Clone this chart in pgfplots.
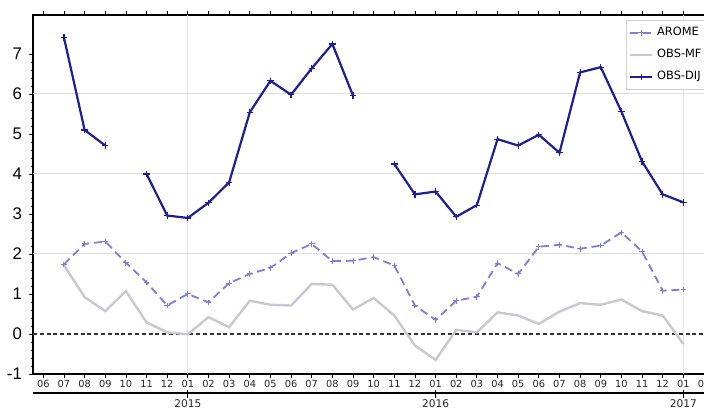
\documentclass[border=0pt]{standalone}
\usepackage{pgfplots}
\pgfplotsset{compat=1.18}
\usepackage{fontspec}
\setmainfont{DejaVu Sans}
\newfontfamily\libsans{Liberation Sans}
\definecolor{dij}{RGB}{30,30,150}
\definecolor{arome}{RGB}{125,125,225}
\definecolor{obsmf}{RGB}{200,200,212}
\begin{document}
\begin{tikzpicture}
\begin{axis}[
  x=10.325pt, y=20pt,
  scale only axis,
  xmin=-0.5, xmax=32.5, ymin=-1, ymax=7.975,
  clip=false,
  axis line style={black, line width=0.6pt},
  xtick={0,...,32},
  xticklabels={06,07,08,09,10,11,12,\raisebox{-0.7pt}{01},02,03,04,05,06,07,08,09,10,11,12,\raisebox{-0.7pt}{01},02,03,04,05,06,07,08,09,10,11,12,\raisebox{-0.7pt}{01},02},
  ytick={-1,0,...,7},
  minor y tick num=4,
  tick align=outside,
  major tick length=2pt, minor tick length=1.2pt,
  xtick style={black, line width=0.4pt},
  ytick style={black, line width=0.4pt},
  x tick label style={font=\fontsize{4.9}{5}\selectfont, text=black!85, yshift=2.3pt},
  y tick label style={font=\libsans\fontsize{8.4}{9}\selectfont},
  /pgf/number format/assume math mode=true,
  extra y ticks={2,4,6},
  extra y tick labels={},
  extra y tick style={grid=major, major grid style={black!13, line width=0.5pt}, major tick length=0pt},
  extra x ticks={7,31},
  extra x tick labels={},
  extra x tick style={grid=major, major grid style={black!10, line width=0.5pt}, major tick length=0pt},
  unbounded coords=jump,
  legend style={at={(axis cs:28.23,7.85)}, anchor=north west, draw=black!18, fill=white,
    font=\fontsize{5.7}{6.5}\selectfont, row sep=1.3pt, inner sep=1.3pt},
  legend cell align=left,
  legend image code/.code={\draw[mark repeat=2,mark phase=2,#1] plot coordinates {(0cm,0cm) (0.19cm,0cm) (0.38cm,0cm)};},
]
\draw[black!80, line width=0.6pt, dash pattern=on 2pt off 1.4pt] (axis cs:-0.5,0) -- (axis cs:32.5,0);

\addplot[arome, line width=0.9pt, dash pattern=on 4pt off 2.4pt, mark=+, mark size=1.4pt, mark options={solid, line width=0.5pt}] coordinates {
(1,1.74) (2,2.25) (3,2.31) (4,1.78) (5,1.29) (6,0.71) (7,1.00) (8,0.79) (9,1.27) (10,1.50)
(11,1.65) (12,2.02) (13,2.25) (14,1.82) (15,1.83) (16,1.92) (17,1.71) (18,0.71) (19,0.35)
(20,0.83) (21,0.93) (22,1.77) (23,1.50) (24,2.18) (25,2.23) (26,2.13) (27,2.21) (28,2.54)
(29,2.06) (30,1.08) (31,1.11)};
\addlegendentry{AROME}

\addplot[obsmf, line width=1.2pt] coordinates {
(1,1.72) (2,0.92) (3,0.57) (4,1.07) (5,0.29) (6,0.04) (7,-0.01) (8,0.42) (9,0.17) (10,0.83)
(11,0.73) (12,0.71) (13,1.25) (14,1.23) (15,0.61) (16,0.90) (17,0.46) (18,-0.29) (19,-0.65)
(20,0.10) (21,0.04) (22,0.54) (23,0.46) (24,0.25) (25,0.56) (26,0.77) (27,0.73) (28,0.86)
(29,0.57) (30,0.46) (31,-0.25)};
\addlegendentry{OBS-MF}

\addplot[dij, line width=1.1pt, mark=+, mark size=1.6pt, mark options={line width=0.6pt}] coordinates {
(1,7.41) (2,5.10) (3,4.71) (4,nan) (5,4.00) (6,2.96) (7,2.90) (8,3.28) (9,3.79) (10,5.54)
(11,6.33) (12,5.98) (13,6.64) (14,7.25) (15,5.96) (16,nan) (17,4.25) (18,3.49) (19,3.56)
(20,2.93) (21,3.22) (22,4.87) (23,4.71) (24,4.98) (25,4.53) (26,6.54) (27,6.67) (28,5.56)
(29,4.31) (30,3.49) (31,3.29)};
\addlegendentry{OBS-DIJ}

\draw[black, line width=0.6pt] ([yshift=-9.5pt]axis cs:-0.5,-1) -- ([yshift=-9.5pt]axis cs:32.5,-1);
\draw[black, line width=0.5pt] ([yshift=-7.8pt]axis cs:7,-1) -- ([yshift=-12pt]axis cs:7,-1);
\draw[black, line width=0.5pt] ([yshift=-7.8pt]axis cs:19,-1) -- ([yshift=-12pt]axis cs:19,-1);
\draw[black, line width=0.5pt] ([yshift=-7.8pt]axis cs:31,-1) -- ([yshift=-12pt]axis cs:31,-1);
\node[font=\fontsize{5.3}{6}\selectfont, text=black!85] at ([yshift=-14.7pt]axis cs:7,-1) {2015};
\node[font=\fontsize{5.3}{6}\selectfont, text=black!85] at ([yshift=-14.7pt]axis cs:19,-1) {2016};
\node[font=\fontsize{5.3}{6}\selectfont, text=black!85] at ([yshift=-14.7pt]axis cs:31,-1) {2017};

\coordinate (bbA) at (axis cs:-2.098,-1.85);
\coordinate (bbB) at (axis cs:32.0,8.35);
\end{axis}
\pgfresetboundingbox
\useasboundingbox (bbA) rectangle (bbB);
\end{tikzpicture}
\end{document}
